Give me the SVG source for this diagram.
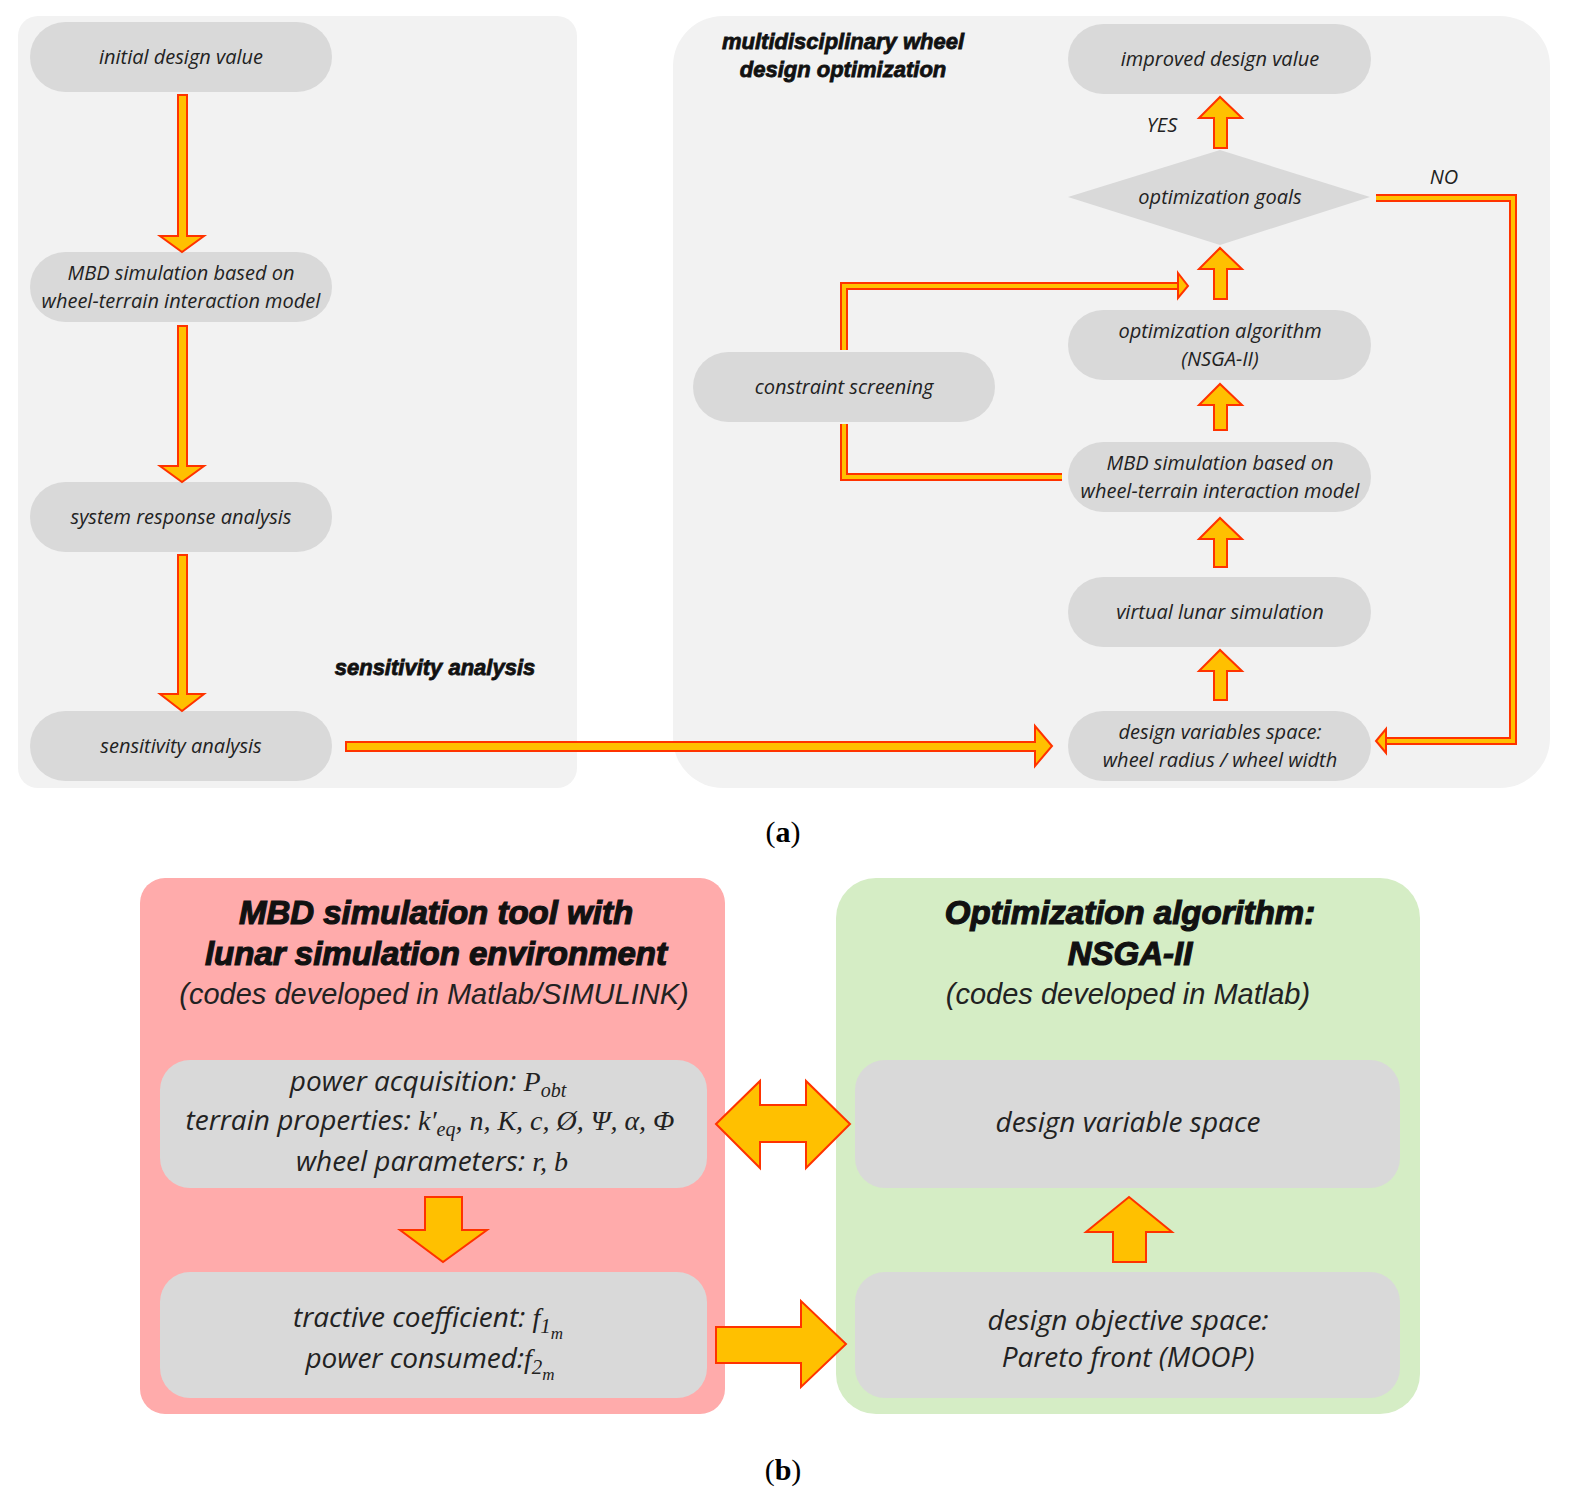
<svg xmlns="http://www.w3.org/2000/svg" width="1569" height="1500" viewBox="0 0 1569 1500">
<style>
.pill{fill:#d9d9d9}
.t{font-family:"Open Sans","Liberation Sans",sans-serif;font-style:italic;font-size:20px;fill:#222;text-anchor:middle}
.h{font-family:"Liberation Sans",sans-serif;font-style:italic;font-weight:bold;font-size:22px;fill:#111;stroke:#111;stroke-width:0.8;text-anchor:middle}
.arr{fill:#ffc000;stroke:#ff3300;stroke-width:2}
.lo{fill:none;stroke:#ff3300;stroke-width:8}
.li{fill:none;stroke:#ffc000;stroke-width:4}
.big{font-family:"Liberation Sans",sans-serif;font-style:italic;font-weight:bold;font-size:33px;fill:#111;stroke:#111;stroke-width:1.2;text-anchor:middle}
.sub{font-family:"Liberation Sans",sans-serif;font-style:italic;font-size:29px;fill:#222;text-anchor:middle}
.bt{font-family:"Open Sans","Liberation Sans",sans-serif;font-style:italic;font-size:28px;fill:#222;text-anchor:middle}
.m{font-family:"Liberation Serif",serif;font-style:italic}
.cap{font-family:"Liberation Serif",serif;font-size:30px;fill:#000;text-anchor:middle}
</style>
<rect width="1569" height="1500" fill="#fff"/>
<rect x="18" y="16" width="559" height="772" rx="20" fill="#f2f2f2"/>
<rect x="673" y="16" width="877" height="772" rx="50" fill="#f2f2f2"/>
<text class="h" x="435" y="675">sensitivity analysis</text>
<text class="h" x="843" y="49">multidisciplinary wheel</text>
<text class="h" x="843" y="77">design optimization</text>

<g id="n1"><rect class="pill" x="30" y="22" width="302" height="70" rx="35"/><text class="t" x="181" y="64">initial design value</text></g>
<g id="n2"><rect class="pill" x="30" y="252" width="302" height="70" rx="35"/><text class="t" x="181" y="280">MBD simulation based on</text><text class="t" x="181" y="308">wheel-terrain interaction model</text></g>
<g id="n3"><rect class="pill" x="30" y="482" width="302" height="70" rx="35"/><text class="t" x="181" y="524">system response analysis</text></g>
<g id="n4"><rect class="pill" x="30" y="711" width="302" height="70" rx="35"/><text class="t" x="181" y="753">sensitivity analysis</text></g>
<g id="n5"><rect class="pill" x="1068" y="24" width="303" height="70" rx="35"/><text class="t" x="1220" y="66">improved design value</text></g>
<g id="n6"><polygon points="1068,197 1220,150 1370,197 1220,245" fill="#d9d9d9"/><text class="t" x="1220" y="204">optimization goals</text></g>
<g id="n7"><rect class="pill" x="1068" y="310" width="303" height="70" rx="35"/><text class="t" x="1220" y="338">optimization algorithm</text><text class="t" x="1220" y="366">(NSGA-II)</text></g>
<g id="n8"><rect class="pill" x="693" y="352" width="302" height="70" rx="35"/><text class="t" x="844" y="394">constraint screening</text></g>
<g id="n9"><rect class="pill" x="1068" y="442" width="303" height="70" rx="35"/><text class="t" x="1220" y="470">MBD simulation based on</text><text class="t" x="1220" y="498">wheel-terrain interaction model</text></g>
<g id="n10"><rect class="pill" x="1068" y="577" width="303" height="70" rx="35"/><text class="t" x="1220" y="619">virtual lunar simulation</text></g>
<g id="n11"><rect class="pill" x="1068" y="711" width="303" height="70" rx="35"/><text class="t" x="1220" y="739">design variables space:</text><text class="t" x="1220" y="767">wheel radius / wheel width</text></g>

<g id="connectors">
<polygon class="arr" points="178,95 187,95 187,236 204,236 182,252 160,236 178,236"/>
<polygon class="arr" points="178,326 187,326 187,466 204,466 182,482 160,466 178,466"/>
<polygon class="arr" points="178,555 187,555 187,694 204,694 182,711 160,694 178,694"/>
<polygon class="arr" points="346,742 1035,742 1035,726 1052,746 1035,766 1035,751 346,751"/>
<polygon class="arr" points="1214,148 1214,118 1199,118 1220,97 1242,118 1227,118 1227,148"/>
<polygon class="arr" points="1214,299 1214,269 1199,269 1220,248 1242,269 1227,269 1227,299"/>
<polygon class="arr" points="1214,430 1214,405 1199,405 1220,384 1242,405 1227,405 1227,430"/>
<polygon class="arr" points="1214,567 1214,539 1199,539 1220,518 1242,539 1227,539 1227,567"/>
<polygon class="arr" points="1214,700 1214,671 1199,671 1220,650 1242,671 1227,671 1227,700"/>
<path class="lo" d="M1062,477 H844 V424"/><path class="li" d="M1062,477 H844 V424"/>
<path class="lo" d="M844,350 V286 H1180"/><path class="li" d="M844,350 V286 H1180"/>
<polygon class="arr" points="1178,273 1188,286 1178,298"/>
<path class="lo" d="M1376,198 H1513 V741 H1386"/><path class="li" d="M1376,198 H1513 V741 H1386"/>
<polygon class="arr" points="1386,729 1376,741 1386,753"/>
</g>
<text class="t" x="1162" y="132">YES</text>
<text class="t" x="1444" y="184">NO</text>
<text class="cap" x="783" y="842">(<tspan font-weight="bold">a</tspan>)</text>

<rect x="140" y="878" width="585" height="536" rx="25" fill="#ffabab"/>
<rect x="836" y="878" width="584" height="536" rx="40" fill="#d5edc5"/>
<text class="big" x="436" y="924">MBD simulation tool with</text>
<text class="big" x="436" y="965">lunar simulation environment</text>
<text class="sub" x="434" y="1004">(codes developed in Matlab/SIMULINK)</text>
<text class="big" x="1130" y="924">Optimization algorithm:</text>
<text class="big" x="1130" y="965">NSGA-II</text>
<text class="sub" x="1128" y="1004">(codes developed in Matlab)</text>
<g id="b1"><rect class="pill" x="160" y="1060" width="547" height="128" rx="30"/>
<text class="bt" x="428" y="1091">power acquisition: <tspan class="m">P<tspan font-size="20" dy="6">obt</tspan></tspan></text>
<text class="bt" x="430" y="1130">terrain properties: <tspan class="m">k′<tspan font-size="20" dy="6">eq</tspan><tspan dy="-6">, n, K, c, Ø, Ψ, α, Φ</tspan></tspan></text>
<text class="bt" x="432" y="1171">wheel parameters: <tspan class="m">r, b</tspan></text></g>
<g id="b2"><rect class="pill" x="160" y="1272" width="547" height="126" rx="30"/>
<text class="bt" x="428" y="1327">tractive coefficient: <tspan class="m">f<tspan font-size="21" dy="6">1</tspan><tspan font-size="17" dy="6">m</tspan></tspan></text>
<text class="bt" x="430" y="1368">power consumed:<tspan class="m">f<tspan font-size="21" dy="6">2</tspan><tspan font-size="17" dy="6">m</tspan></tspan></text></g>
<g id="b3"><rect class="pill" x="855" y="1060" width="545" height="128" rx="30"/><text class="bt" x="1128" y="1132">design variable space</text></g>
<g id="b4"><rect class="pill" x="855" y="1272" width="545" height="126" rx="30"/><text class="bt" x="1128" y="1330">design objective space:</text><text class="bt" x="1128" y="1367">Pareto front (MOOP)</text></g>
<g id="connectors-b">
<polygon class="arr" points="716,1124 760,1081 760,1105 806,1105 806,1081 850,1124 806,1168 806,1142 760,1142 760,1168"/>
<polygon class="arr" points="716,1327 801,1327 801,1301 846,1344 801,1387 801,1363 716,1363"/>
<polygon class="arr" points="425,1197 462,1197 462,1230 487,1230 443,1262 400,1230 425,1230"/>
<polygon class="arr" points="1113,1262 1146,1262 1146,1232 1172,1232 1129,1197 1086,1232 1113,1232"/>
</g>
<text class="cap" x="783" y="1480">(<tspan font-weight="bold">b</tspan>)</text>
</svg>
